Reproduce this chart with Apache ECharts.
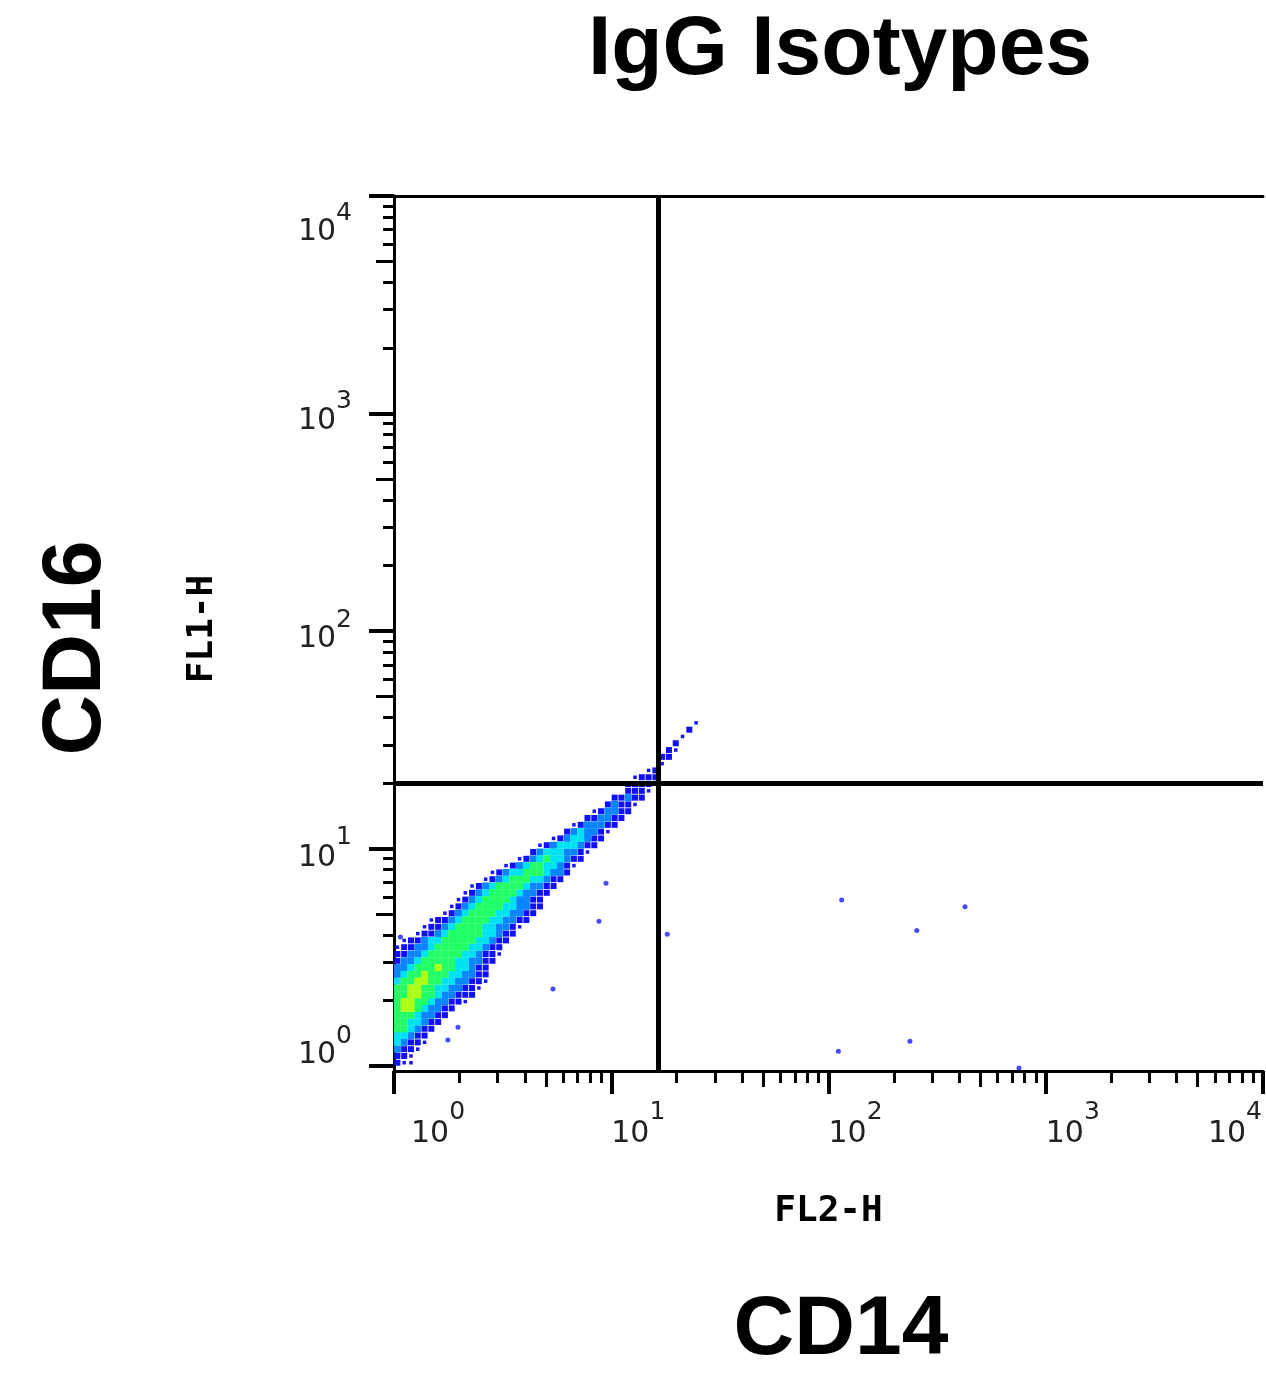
<!DOCTYPE html>
<html>
<head>
<meta charset="utf-8">
<script src="https://cdn.jsdelivr.net/npm/echarts@6/dist/echarts.min.js"></script>
<style>
html,body{margin:0;padding:0;background:#fff;}
#chart{width:1266px;height:1376px;}
</style>
</head>
<body>
<div id="chart"></div>
<script>
// ---------------- DATA ----------------
const titleText = 'IgG Isotypes';
const xMarkerLabel = 'CD14';
const yMarkerLabel = 'CD16';
const xChannelName = 'FL2-H';
const yChannelName = 'FL1-H';

const xRange = [1, 10000];
const yRange = [0.95, 10000];

// decade ticks (labelled)
const majorTicks = [1, 10, 100, 1000, 10000];
// minor log ticks
const minorTicks = [2, 3, 4, 6, 7, 8, 9, 20, 30, 40, 60, 70, 80, 90,
  200, 300, 400, 600, 700, 800, 900, 2000, 3000, 4000, 6000, 7000, 8000, 9000];
const fiveTicks = [5, 50, 500, 5000];

// quadrant gate positions
const gateX = 16.5;
const gateY = 20;

// density raster: 32 cells per decade on both axes.
// each row (bottom -> top): [first column index, levels]
// '.' none, 'b' sparse dot, '1' blue, '2' light blue, '3' cyan, '4' green, '5' yellow-green
const cellsPerDecade = 32;
const densityRows = [
  [0, "1bb"],
  [0, "11b"],
  [0, "211b"],
  [0, "3211b"],
  [0, "33211"],
  [0, "443211"],
  [0, "4433211"],
  [0, "44432211"],
  [0, "455432211"],
  [0, "4554432211b"],
  [0, "445544322111"],
  [0, "445544332211b"],
  [0, "3445544332211b"],
  [0, "23445444332211"],
  [0, "22344454433211"],
  [0, "122344444332211"],
  [0, "112234444433211b"],
  [0, "b112234444433211"],
  [1, "b112334444433211"],
  [3, "b11234444433211"],
  [4, "b1123444433221b"],
  [5, "b11234444332211"],
  [7, "b1234444332211"],
  [8, "b1234444332211"],
  [9, "b123444432211"],
  [10, "b123444432211"],
  [11, "b123444432211"],
  [13, "b12344433211"],
  [14, "b12334443221"],
  [16, "b123443321b"],
  [18, "b123433211"],
  [20, "12333221b"],
  [21, "b12333211"],
  [23, "b1233211"],
  [25, "123221b"],
  [26, "b122211"],
  [28, "112211"],
  [29, "b12211"],
  [31, "1211b"],
  [32, "11211"],
  [34, "111b"],
  [34, "1111"],
  [35, "b111"],
  [37, "b1"],
  [39, "b"],
  [39, "11"],
  [40, "1b"],
  [41, "1"],
  [42, "b"],
  [43, "1"],
  [44, "b"]
];

// isolated events [FL2-H, FL1-H]
const outlierX = [115, 255, 425, 111, 237, 753, 9.46, 8.78, 18.1, 5.39, 1.97, 1.77, 1.07];
const outlierY = [5.8, 4.2, 5.4, 1.17, 1.30, 0.98, 6.94, 4.64, 4.04, 2.26, 1.51, 1.32, 3.92];

// ---------------- STYLE ----------------
const levelStyles = [
  {key: 'b', color: '#1414ff', size: 3.5},
  {key: '1', color: '#1010ff', size: 6},
  {key: '2', color: '#0a84ff', size: 7},
  {key: '3', color: '#00e2f2', size: 7},
  {key: '4', color: '#22ff66', size: 7},
  {key: '5', color: '#aaff14', size: 7}
];
const labelFont = 'DejaVu Sans';
const labelColor = '#222';
const baseSize = 30, supSize = 25;
const H = 120;
// top padding that puts a token's text centre d px from the label anchor
function shiftStyle(d, fs) {
  return {verticalAlign: 'top', padding: [H / 2 + d - fs / 2, 0, 0, 0]};
}
// vertical shifts (base "10", exponent) of y tick labels, by exponent
const yShift = {0: [-11, -30], 1: [10, -11], 2: [8, -11], 3: [8, -12], 4: [36, 17]};
const xShift = [1, -21];

// ---------------- BUILD ----------------
const cellPoints = {};
levelStyles.forEach(l => cellPoints[l.key] = []);
densityRows.forEach(([start, s], j) => {
  for (let i = 0; i < s.length; i++) {
    const c = s[i];
    if (c === '.') continue;
    const k = start + i;
    cellPoints[c].push([Math.pow(10, (k + 0.5) / cellsPerDecade), Math.pow(10, (j + 0.5) / cellsPerDecade)]);
  }
});
const outliers = outlierX.map((x, i) => [x, outlierY[i]]);

const baseText = {fontSize: baseSize, fontFamily: labelFont, color: labelColor};
const supText = {fontSize: supSize, fontFamily: labelFont, color: labelColor};
const spacer = {lineHeight: H, width: 1, fontSize: 10, verticalAlign: 'top'};

const xBasePad = shiftStyle(xShift[0], baseSize);
const xRich = {
  h: spacer,
  b: Object.assign({}, baseText, xBasePad),
  p: Object.assign({}, baseText, {verticalAlign: 'top', padding: [xBasePad.padding[0], 0, 0, 17]}),
  s: Object.assign({}, supText, shiftStyle(xShift[1], supSize))
};
const yRich = {h: spacer};
Object.keys(yShift).forEach(e => {
  yRich['b' + e] = Object.assign({}, baseText, shiftStyle(yShift[e][0], baseSize));
  yRich['s' + e] = Object.assign({}, supText, shiftStyle(yShift[e][1], supSize));
});

const expOf = v => Math.round(Math.log10(v));

function tickAxis(range, pos, values, len, width) {
  return {
    type: 'log', logBase: 10, min: range[0], max: range[1], position: pos,
    axisLine: {show: false},
    axisTick: {show: true, inside: false, length: len, customValues: values,
      lineStyle: {color: '#000', width: width}},
    axisLabel: {show: false},
    splitLine: {show: false}
  };
}

const option = {
  animation: false,
  backgroundColor: '#fff',
  grid: {left: 394, top: 196, right: 3, bottom: 305, containLabel: false, outerBoundsMode: 'none'},
  xAxis: [
    {
      type: 'log', logBase: 10, min: xRange[0], max: xRange[1], position: 'bottom',
      name: xChannelName, nameLocation: 'middle', nameGap: 141,
      nameTextStyle: {fontFamily: 'DejaVu Sans Mono', fontWeight: 'bold', fontSize: 36, color: '#000', verticalAlign: 'middle'},
      axisLine: {show: true, onZero: false, lineStyle: {color: '#000', width: 3}},
      axisTick: {show: true, inside: false, length: 23, customValues: majorTicks, lineStyle: {color: '#000', width: 4}},
      axisLabel: {
        show: true, customValues: majorTicks, margin: 62, align: 'left', verticalAlign: 'middle',
        alignMaxLabel: 'right', showMinLabel: true, showMaxLabel: true, interval: 0,
        formatter: v => { const e = expOf(v); return (e === 0 ? '{p|10}' : '{b|10}') + '{s|' + e + '}{h| }'; },
        rich: xRich
      },
      splitLine: {show: false}
    },
    tickAxis(xRange, 'bottom', minorTicks, 12, 3),
    tickAxis(xRange, 'bottom', fiveTicks, 16, 3),
    {
      type: 'log', logBase: 10, min: xRange[0], max: xRange[1], position: 'top',
      axisLine: {show: true, onZero: false, lineStyle: {color: '#000', width: 3}},
      axisTick: {show: false}, axisLabel: {show: false}, splitLine: {show: false}
    }
  ],
  yAxis: [
    {
      type: 'log', logBase: 10, min: yRange[0], max: yRange[1], position: 'left',
      name: yChannelName, nameLocation: 'middle', nameGap: 191,
      nameTextStyle: {fontFamily: 'DejaVu Sans Mono', fontWeight: 'bold', fontSize: 36, color: '#000', verticalAlign: 'middle', padding: [0, 0, 0, 9]},
      axisLine: {show: true, onZero: false, lineStyle: {color: '#000', width: 3}},
      axisTick: {show: true, inside: false, length: 25, customValues: majorTicks, lineStyle: {color: '#000', width: 4}},
      axisLabel: {
        show: true, customValues: majorTicks, margin: 42, align: 'right', verticalAlign: 'middle',
        showMinLabel: true, showMaxLabel: true, interval: 0,
        formatter: v => { const e = expOf(v); return '{h| }{b' + e + '|10}{s' + e + '|' + e + '}'; },
        rich: yRich
      },
      splitLine: {show: false}
    },
    tickAxis(yRange, 'left', minorTicks, 11, 3),
    tickAxis(yRange, 'left', fiveTicks, 18, 3)
  ],
  series: levelStyles.map(l => ({
    type: 'scatter', xAxisIndex: 0, yAxisIndex: 0, silent: true,
    symbol: 'rect', symbolSize: l.size,
    itemStyle: {color: l.color, opacity: 1},
    data: cellPoints[l.key], z: 2
  })).concat([{
    type: 'scatter', xAxisIndex: 0, yAxisIndex: 0, silent: true,
    symbol: 'circle', symbolSize: 5,
    itemStyle: {color: '#1a1aff'},
    data: outliers, z: 3,
    markLine: {
      silent: true, symbol: ['none', 'none'], label: {show: false}, z: 6,
      lineStyle: {color: '#000', width: 5, type: 'solid'},
      emphasis: {disabled: true},
      data: [{xAxis: gateX}, {yAxis: gateY}]
    }
  }]),
  graphic: [
    {type: 'text', x: 840, y: 51, style: {text: titleText, fontFamily: 'Liberation Sans', fontWeight: 'bold', fontSize: 84, fill: '#000', textAlign: 'center', textVerticalAlign: 'middle'}},
    {type: 'text', x: 841, y: 1331, style: {text: xMarkerLabel, fontFamily: 'Liberation Sans', fontWeight: 'bold', fontSize: 84, fill: '#000', textAlign: 'center', textVerticalAlign: 'middle'}},
    {type: 'text', x: 77, y: 648, rotation: Math.PI / 2, style: {text: yMarkerLabel, fontFamily: 'Liberation Sans', fontWeight: 'bold', fontSize: 84, fill: '#000', textAlign: 'center', textVerticalAlign: 'middle'}}
  ]
};

const chart = echarts.init(document.getElementById('chart'), null, {renderer: 'canvas'});
chart.setOption(option);
</script>
</body>
</html>
